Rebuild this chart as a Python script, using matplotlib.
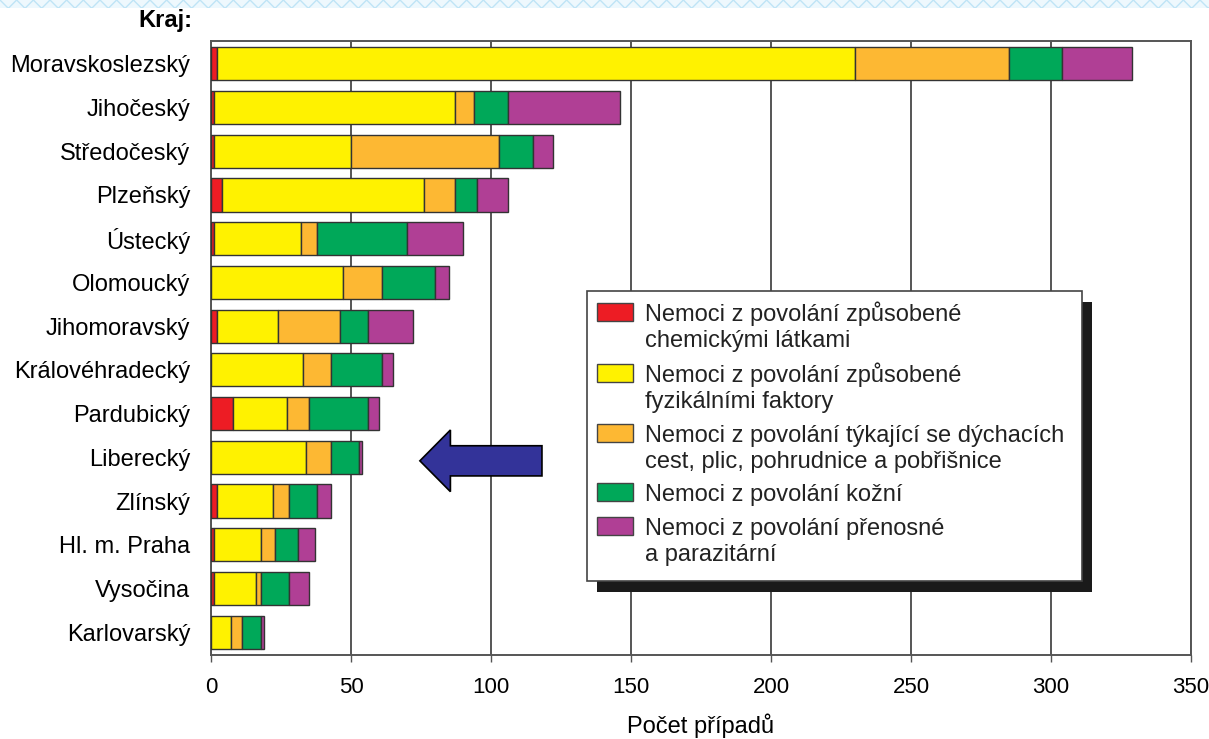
import numpy as np
import matplotlib.pyplot as plt
from matplotlib.patches import Rectangle, FancyArrow

plt.rcParams['font.family'] = ['Liberation Sans', 'DejaVu Sans']

# Počty nemocí z povolání podle krajů
kraje = ['Moravskoslezský', 'Jihočeský', 'Středočeský', 'Plzeňský', 'Ústecký',
         'Olomoucký', 'Jihomoravský', 'Královéhradecký', 'Pardubický', 'Liberecký',
         'Zlínský', 'Hl. m. Praha', 'Vysočina', 'Karlovarský']
chemicke = [2, 1, 1, 4, 1, 0, 2, 0, 8, 0, 2, 1, 1, 0]
fyzikalni = [228, 86, 49, 72, 31, 47, 22, 33, 19, 34, 20, 17, 15, 7]
dychaci = [55, 7, 53, 11, 6, 14, 22, 10, 8, 9, 6, 5, 2, 4]
kozni = [19, 12, 12, 8, 32, 19, 10, 18, 21, 10, 10, 8, 10, 7]
prenosne = [25, 40, 7, 11, 20, 5, 16, 4, 4, 1, 5, 6, 7, 1]

skupiny = [chemicke, fyzikalni, dychaci, kozni, prenosne]
popisky = ['Nemoci z povolání způsobené\nchemickými látkami',
           'Nemoci z povolání způsobené\nfyzikálními faktory',
           'Nemoci z povolání týkající se dýchacích\ncest, plic, pohrudnice a pobřišnice',
           'Nemoci z povolání kožní',
           'Nemoci z povolání přenosné\na parazitární']
barvy = ['#ED1C24', '#FFF200', '#FDB833', '#00A859', '#B03F95']

x_ticks = [0, 50, 100, 150, 200, 250, 300, 350]
zvyrazneny = 'Liberecký'

W, H = 1209, 739
fig = plt.figure(figsize=(W / 100, H / 100), dpi=100)
ax = fig.add_axes([211 / W, 1 - 655 / H, 980 / W, 614 / H])


def px(x, y):
    # pixelová pozice -> souřadnice obrázku
    return x / W, 1 - y / H


y = np.arange(len(kraje))
left = np.zeros(len(kraje))
for hodnoty, barva in zip(skupiny, barvy):
    ax.barh(y, hodnoty, left=left, height=0.76, color=barva,
            edgecolor='#333333', linewidth=1.0, zorder=3)
    left += np.array(hodnoty)

ax.set_ylim(len(kraje) - 0.48, -0.52)
ax.set_xlim(0, 350)
ax.set_yticks(y)
ax.set_yticklabels(kraje, fontsize=17)
ax.set_xticks(x_ticks)
ax.set_xticklabels([str(t) for t in x_ticks], fontsize=16)
ax.tick_params(axis='y', length=0, pad=15)
ax.tick_params(axis='x', length=5, width=1, color='#555555', pad=11)
ax.xaxis.grid(True, color='#555555', linewidth=1.4, zorder=0)
ax.set_axisbelow(True)
for s in ax.spines.values():
    s.set_color('#555555')
    s.set_linewidth(1.4)

# Popis osy x
fig.text(*px(701, 733), 'Počet případů', fontsize=17, ha='center', va='baseline')

# Šipka u Libereckého kraje
i = kraje.index(zvyrazneny)
ax.add_patch(FancyArrow(118.2, i + 0.08, -43.6, 0, width=0.69, head_width=1.41,
                        head_length=10.9, length_includes_head=True,
                        fc='#333399', ec='black', lw=1.2, zorder=4, clip_on=False))

# Nadpis osy y
fig.text(*px(192, 21), 'Kraj:', fontsize=17, fontweight='bold', ha='right', va='center')

# Pruh nahoře
fig.patches.append(Rectangle(px(0, 8), 1, 8 / H, transform=fig.transFigure,
                             facecolor='#eef8fd', edgecolor='#bfe4f6', hatch='xx',
                             linewidth=0, zorder=0))

# Legenda se stínem
x0, y0, x1, y1 = 587, 291, 1082, 581
fig.patches.append(Rectangle(px(x0 + 10, y1 + 11), (x1 - x0) / W, (y1 - y0) / H,
                             transform=fig.transFigure, facecolor='#1a1a1a',
                             edgecolor='none', zorder=5))
fig.patches.append(Rectangle(px(x0, y1), (x1 - x0) / W, (y1 - y0) / H,
                             transform=fig.transFigure, facecolor='white',
                             edgecolor='#444444', linewidth=1.2, zorder=6))
zaklady = [321, 382, 442, 501, 535]
for popisek, barva, zaklad in zip(popisky, barvy, zaklady):
    fig.patches.append(Rectangle(px(597, zaklad - 0.5), 36 / W, 18 / H,
                                 transform=fig.transFigure, facecolor=barva,
                                 edgecolor='#444444', linewidth=1.0, zorder=7))
    for k, radek in enumerate(popisek.split('\n')):
        fig.text(*px(645, zaklad + 26 * k), radek, fontsize=17,
                 ha='left', va='baseline', color='#222222', zorder=8)

plt.savefig('out.png', dpi=100)
